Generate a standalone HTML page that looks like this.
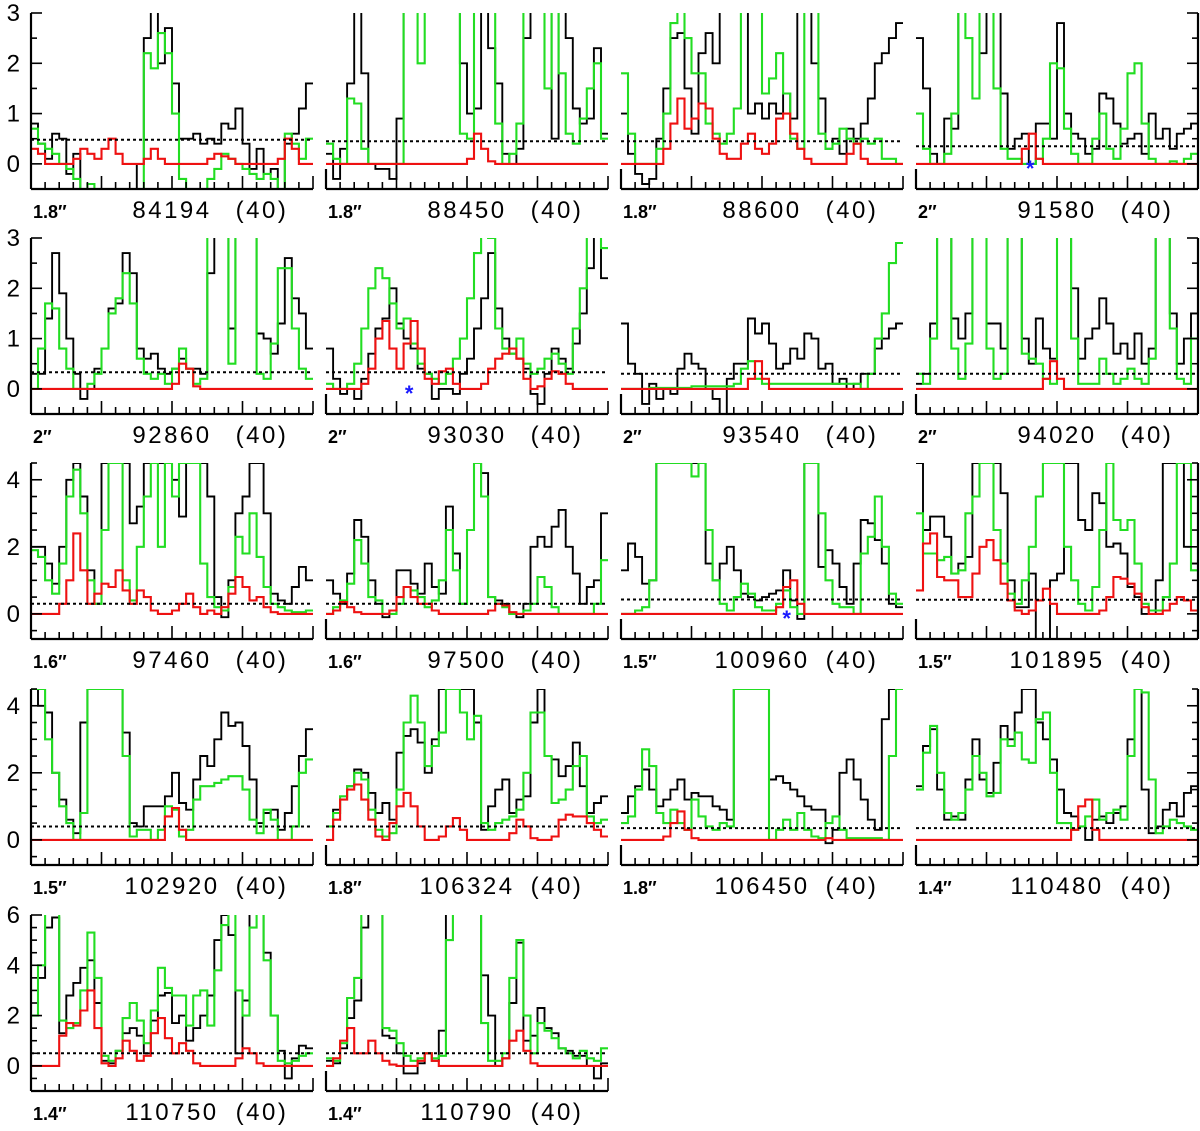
<!DOCTYPE html>
<html><head><meta charset="utf-8"><style>
html,body{margin:0;padding:0;background:#fff;}
svg{display:block;}
text{font-family:"Liberation Sans",sans-serif;}
</style></head><body>
<svg id="chart" width="1200" height="1131" viewBox="0 0 1200 1131" xmlns="http://www.w3.org/2000/svg"></svg>
<script>
// ---- data (40 channels per panel) ----
const freqLabels = ["84194","88450","88600","91580","92860","93030","93540","94020","97460","97500","100960","101895","102920","106324","106450","110480","110750","110790"];
const beamLabels = ["1.8″","1.8″","1.8″","2″","2″","2″","2″","2″","1.6″","1.6″","1.5″","1.5″","1.5″","1.8″","1.8″","1.4″","1.4″","1.4″"];
const noiseLevels = [0.48,0.45,0.45,0.35,0.33,0.33,0.3,0.3,0.3,0.3,0.43,0.42,0.4,0.4,0.35,0.35,0.5,0.5];
const starPanels = [3,5,10];
const starChannels = [16.2,11.8,23.5];

const black0=[0.8,0.4,0.1,0.6,0.5,-0.2,0.2,-0.5,-0.6,-0.6,-0.6,-0.7,-0.5,-0.8,-0.8,0.0,2.5,3.2,2.0,2.7,1.6,0.5,0.5,0.6,0.4,0.5,0.4,0.8,0.7,1.1,0.4,-0.1,0.3,-0.2,-0.1,-0.5,0.4,0.6,1.1,1.6];
const green0=[0.7,0.4,0.3,0.2,0.0,-0.1,-0.3,-0.5,-0.4,-0.5,-0.6,-0.9,-1,-1,-1,-1,2.2,1.9,2.6,2.2,1.0,-0.3,-0.5,-0.6,-0.5,-0.3,-0.1,0.2,0.1,0.0,-0.1,-0.2,-0.3,-0.2,-0.3,-1,0.6,0.4,0.1,0.5];
const red0=[0.3,0.2,0,0,0,0,0.1,0.3,0.2,0.1,0.3,0.5,0.2,0,0,0,0.1,0.3,0.1,0,0,0,0,0,0,0.1,0.2,0.15,0.1,0,0,0,0,0,0,0.1,0.5,0.3,0,0];

const black1=[0.2,-0.3,0.3,1.6,3.5,1.8,0.0,-0.1,-0.1,-0.3,0.9,3.5,3.5,3.5,3.5,3.5,3.5,3.5,3.5,2.0,1.0,1.1,3.5,2.3,1.6,0.2,0.0,0.3,2.5,3.5,3.5,3.5,0.5,3.5,2.5,1.1,0.8,0.9,2.3,0.6];
const green1=[0.4,0.1,0.0,1.3,1.2,0.3,0.0,0.0,0.0,0.0,0.0,3.5,3.5,2.0,3.5,3.5,3.5,3.5,3.5,0.6,0.5,3.5,3.5,3.5,0.8,0.0,0.2,0.8,3.5,3.5,3.5,1.5,3.5,1.8,0.6,0.4,0.9,1.5,2.0,0.5];
const red1=[0,0,0,0,0,0,0,0,0,0,0,0,0,0,0,0,0,0,0,0,0.1,0.6,0.3,0.05,0,0,0,0,0,0,0,0,0,0,0,0,0,0,0,0];

const black2=[1.0,0.2,-0.2,-0.4,-0.3,0.5,1.5,2.5,2.6,1.5,0.6,2.2,2.6,2.0,3.5,3.5,3.5,3.5,1.0,1.2,0.9,1.2,1.0,1.4,0.9,3.5,3.5,2.0,1.3,0.3,0.5,0.2,0.7,0.5,0.8,1.3,2.0,2.2,2.5,2.8];
const green2=[1.8,0.6,0.0,0.0,0.0,0.3,1.0,2.8,3.5,2.5,1.8,1.8,0.8,0.6,0.4,0.6,1.1,3.5,3.5,3.5,1.4,1.7,2.2,1.4,0.5,0.3,3.5,3.5,0.6,0.3,0.4,0.7,0.5,0.4,0.5,0.4,0.5,0.1,0.1,0.0];
const red2=[0,0,0,0,0,0,0.3,0.8,1.3,0.7,0.9,1.2,1.1,0.5,0.2,0.1,0.1,0.4,0.6,0.3,0.2,0.4,0.9,1.0,0.6,0.3,0.1,0,0,0,0,0,0.2,0.4,0.1,0,0,0,0,0];

const black3=[2.5,1.5,0.2,0.0,0.9,0.7,3.5,3.5,3.5,2.2,3.5,3.5,1.4,0.3,0.5,0.6,0.0,0.8,0.8,0.5,2.8,1.0,0.6,0.5,0.2,0.3,1.4,1.3,0.8,0.4,0.5,0.6,0.2,1.0,0.5,0.7,0.3,0.6,0.7,0.8];
const green3=[1.0,0.3,0.0,0.0,0.2,1.0,3.5,2.5,1.3,3.5,3.5,1.5,0.3,0.1,0.1,0.0,0.0,0.1,0.5,2.0,1.9,0.7,0.2,0.0,0.0,0.5,1.0,0.3,0.1,0.7,1.8,2.0,0.8,0.1,0.0,0.0,0.05,0.0,0.1,0.2];
const red3=[0,0,0,0,0,0,0,0,0,0,0,0,0,0,0,0.3,0.6,0.1,0,0,0,0,0,0,0,0,0,0,0,0,0,0,0,0,0,0,0,0,0,0];

const black4=[0.3,0.3,1.4,2.7,1.9,1.0,0.3,-0.2,0.0,0.4,0.8,1.6,1.7,2.7,2.3,0.8,0.6,0.7,0.4,0.3,0.4,0.6,0.4,0.4,0.3,2.3,3.5,3.5,1.2,3.5,3.5,3.5,1.1,1.0,0.7,1.3,2.6,1.8,1.5,0.8];
const green4=[0.0,0.8,1.7,1.6,0.8,0.4,0.0,0.0,0.1,0.3,0.8,1.5,1.8,2.3,1.7,0.6,0.3,0.2,0.3,0.1,0.4,0.8,0.4,0.1,0.2,3.5,3.5,3.5,0.5,3.5,3.5,3.5,0.3,0.2,0.9,2.4,2.4,1.2,0.4,0.2];
const red4=[0,0,0,0,0,0,0,0,0,0,0,0,0,0,0,0,0,0,0,0,0.1,0.5,0.4,0.05,0,0,0,0,0,0,0,0,0,0,0,0,0,0,0,0];

const black5=[0.8,0.2,-0.1,0.0,-0.2,0.2,0.7,1.2,1.4,2.0,1.3,1.0,0.8,0.4,0.3,-0.2,0.0,0.0,-0.1,0.3,0.6,1.2,1.8,2.7,1.6,1.0,0.7,0.6,0.4,-0.1,-0.3,0.3,0.8,0.6,0.4,0.9,1.5,2.4,3.5,2.2];
const green5=[0.1,0.0,0.0,0.1,0.5,1.2,2.0,2.4,2.2,1.7,1.2,1.4,0.9,0.5,0.3,0.2,0.1,0.3,0.6,1.0,1.8,2.7,3.5,3.0,1.2,0.8,0.7,1.0,0.5,0.3,0.4,0.6,0.7,0.5,0.3,1.2,2.0,3.5,3.5,2.8];
const red5=[0,0,0,0,0,0.1,0.4,1.0,1.35,0.8,0.4,0.9,1.35,0.8,0.2,0.1,0.35,0.4,0.1,0,0,0,0.1,0.4,0.6,0.7,0.8,0.6,0.2,0,0.05,0.2,0.35,0.3,0.1,0,0,0,0,0];

const black6=[1.3,0.5,0.3,-0.3,0.1,-0.2,0.0,-0.1,0.4,0.7,0.5,0.4,0.0,-0.2,-0.5,0.2,0.5,0.5,1.4,1.1,1.3,0.9,0.4,0.5,0.8,0.6,1.1,1.0,0.4,0.5,0.1,0.2,0.0,0.1,0.3,0.3,0.8,1.0,1.2,1.3];
const green6=[0,0,0,0,0.02,0.02,0.02,0.02,0.02,0.02,0.05,0.05,0.05,0.05,0.05,0.05,0.1,0.4,0.55,0.2,0.1,0.1,0.1,0.1,0.1,0.1,0.1,0.1,0.1,0.1,0.1,0.1,0.1,0.1,0.0,0.3,1.0,1.5,2.5,2.9];
const red6=[0,0,0,0,0,0,0,0,0,0,0,0,0,0,0,0,0,0,0.2,0.55,0.2,0,0,0,0,0,0,0,0,0,0,0,0,0,0,0,0,0,0,0];

const black7=[0.1,0.3,1.3,3.5,3.5,1.4,1.0,1.5,3.5,3.5,1.3,1.3,0.8,3.5,3.5,1.0,0.5,1.4,0.8,0.6,3.5,3.5,2.0,0.6,1.0,1.2,1.8,1.3,0.7,0.9,0.6,1.1,0.5,0.8,3.5,3.5,1.5,0.5,1.0,1.5];
const green7=[0.3,0.1,1.0,3.5,3.5,0.8,0.2,0.9,3.5,3.5,0.8,0.2,0.3,3.5,3.5,0.7,0.6,0.5,0.2,0.1,3.5,3.5,1.0,0.1,0.1,0.1,0.6,0.3,0.1,0.2,0.4,0.2,0.1,0.6,3.5,3.5,1.2,0.2,0.1,1.0];
const red7=[0,0,0,0,0,0,0,0,0,0,0,0,0,0,0,0,0,0,0.2,0.55,0.2,0,0,0,0,0,0,0,0,0,0,0,0,0,0,0,0,0,0,0];

const black8=[2.0,2.0,1.5,0.9,2.0,4.0,4.5,3.5,1.3,0.3,4.5,4.5,4.5,4.5,2.7,3.2,4.5,4.5,4.5,4.5,4.0,2.9,4.5,4.5,4.5,3.5,0.5,-0.1,1.0,3.0,3.5,4.5,4.5,3.0,0.6,0.4,0.3,0.8,1.4,1.0];
const green8=[1.9,1.7,1.0,0.6,1.5,3.5,4.3,3.0,1.0,0.3,2.5,4.5,4.5,1.0,0.4,2.0,3.5,4.5,2.0,4.5,3.5,4.5,4.5,4.5,1.5,0.5,0.2,0.1,0.8,2.3,1.8,3.0,1.7,0.8,0.3,0.2,0.1,0.05,0.05,0.1];
const red8=[0,0,0,0,0.3,1.0,2.4,1.3,0.3,0.6,0.9,0.8,1.3,0.7,0.3,0.7,0.5,0.1,0,0,0.1,0.3,0.6,0.2,0,0.1,0,0.2,0.6,1.1,0.8,0.4,0.5,0.2,0.05,0,0,0,0,0];

const black9=[1.0,0.6,0.3,1.2,2.8,2.3,1.0,0.3,-0.1,0.1,1.3,1.3,0.9,0.6,1.5,0.8,0.6,3.2,1.8,0.3,2.5,4.5,4.2,0.5,0.4,0.3,0.0,-0.1,0.3,2.0,2.3,2.0,2.6,3.1,2.0,1.2,0.3,0.8,1.0,3.0];
const green9=[0.0,0.2,0.4,0.9,2.2,1.5,0.5,0.4,0.0,0.0,0.3,0.8,0.7,0.5,0.2,0.4,1.0,2.5,1.3,0.3,2.5,4.5,3.5,0.5,0.3,0.2,0.0,0.0,0.1,0.3,1.1,0.8,0.2,0.0,0.0,0.0,0.0,0.0,0.3,1.6];
const red9=[0,0.1,0.35,0.2,0.05,0,0,0,0,0.1,0.5,0.8,0.5,0.3,0.3,0.1,0,0,0,0,0,0,0,0.1,0.3,0.25,0.05,0,0,0,0,0,0,0,0,0,0,0,0,0];

const black10=[1.3,2.1,1.7,0.9,1.0,4.5,4.5,4.5,4.5,4.5,4.5,4.5,1.5,1.0,1.5,2.0,1.3,0.6,0.5,0.4,0.5,0.6,0.7,1.3,0.4,-0.15,4.5,4.5,1.4,1.9,1.5,0.8,0.3,1.5,2.8,2.7,2.2,1.5,0.3,0.2];
const green10=[0.0,0.0,0.1,0.2,1.0,4.5,4.5,4.5,4.5,4.5,4.1,4.5,2.5,1.0,0.3,0.1,0.5,0.9,0.6,0.2,0.1,0.1,0.3,0.7,0.2,0.0,4.5,4.5,3.0,1.0,0.3,0.2,0.2,0.0,1.8,2.3,3.5,2.0,0.6,0.3];
const red10=[0,0,0,0,0,0,0,0,0,0,0,0,0,0,0,0,0,0,0,0,0,0,0.2,0.8,1.0,0.3,0,0,0,0,0,0,0,0,0,0,0,0,0,0];

const black11=[4.5,2.5,2.9,2.9,2.3,1.2,1.5,1.7,4.5,4.5,4.5,4.5,3.6,1.0,0.2,0.2,1.2,-0.8,-0.8,1.0,1.2,4.5,4.5,2.8,2.5,3.6,3.3,2.0,2.1,1.8,0.8,0.5,0.0,0.0,1.0,4.5,4.5,4.5,2.0,1.5];
const green11=[3.0,1.8,1.8,1.6,1.7,1.2,1.3,3.0,3.5,4.5,4.5,2.5,1.5,0.6,0.3,1.0,2.0,3.5,4.5,4.5,4.5,2.0,1.0,0.3,0.1,0.8,2.5,4.5,2.8,2.5,2.8,1.5,0.3,0.1,0.1,0.5,1.5,4.5,4.5,1.3];
const red11=[0.7,2.1,2.4,1.1,1.0,1.0,0.5,0.5,1.2,2.0,2.2,1.6,0.9,0.4,0.1,0,0.1,0.4,0.75,0.3,0,0,0,0,0,0,0.1,0.5,1.1,1.05,0.9,0.6,0.2,0,0,0.1,0.3,0.5,0.4,0.1];

const black12=[4.5,4.0,3.8,2.0,1.2,0.6,0.2,3.5,4.5,4.5,4.5,4.5,4.5,3.2,0.5,0.4,1.0,1.0,1.0,1.3,2.0,1.1,0.9,1.8,2.5,2.2,3.0,3.8,3.4,3.5,2.8,1.8,0.5,0.8,0.9,0.3,0.8,1.6,2.5,3.3];
const green12=[4.5,4.5,3.0,2.0,1.0,0.5,0.0,0.8,4.5,4.5,4.5,4.5,4.5,2.5,0.1,0.3,0.3,0.0,0.3,1.0,0.9,0.1,0.3,1.2,1.6,1.6,1.7,1.8,1.9,1.9,1.5,0.6,0.2,0.9,0.6,0.0,0.0,0.4,2.0,2.4];
const red12=[0,0,0,0,0,0,0,0,0,0,0,0,0,0,0,0,0,0,0,0.7,0.95,0.3,0,0,0,0,0,0,0,0,0,0,0,0,0,0,0,0,0,0];

const black13=[0.4,0.9,1.2,1.6,2.1,2.0,1.4,0.8,1.1,0.6,2.6,3.1,3.3,2.9,2.0,3.0,4.5,4.5,4.5,4.5,4.5,3.5,0.3,1.0,1.5,1.8,0.8,1.2,1.3,3.5,4.5,2.5,2.4,1.9,2.2,2.9,1.6,0.8,1.1,1.3];
const green13=[0.4,0.8,1.3,1.6,2.0,1.8,0.9,0.3,0.1,0.2,1.5,3.5,4.3,3.5,2.2,2.8,3.2,4.5,4.5,3.8,3.0,3.7,0.5,0.3,0.5,0.6,0.7,0.9,2.0,3.8,3.8,2.5,1.1,1.2,1.5,2.2,2.5,0.7,0.5,0.6];
const red13=[0,0.6,1.2,1.5,1.65,1.2,0.6,0.1,0,0.5,1.0,1.4,1.0,0.4,0,0,0.1,0.4,0.65,0.3,0,0,0,0,0,0,0.2,0.6,0.4,0.05,0,0,0.1,0.6,0.75,0.7,0.7,0.5,0.3,0.1];

const black14=[0.8,1.3,1.6,2.1,1.5,1.0,1.2,1.5,1.8,1.2,1.4,1.3,1.3,1.0,0.9,0.6,4.5,4.5,4.5,4.5,4.5,1.8,1.9,1.7,1.5,1.3,1.0,0.9,0.9,-0.1,0.3,2.0,2.4,1.8,1.2,0.6,0.3,3.6,4.5,4.5];
const green14=[0.5,0.7,1.5,2.7,2.2,0.8,0.5,0.9,0.5,0.3,1.2,0.7,0.4,0.3,0.5,0.4,4.5,4.5,4.5,4.5,4.5,0.0,0.3,0.6,0.3,0.8,0.3,0.1,0.05,0.5,0.7,0.3,0.05,0.05,0.05,0.05,0.05,0.0,2.5,4.5];
const red14=[0,0,0,0,0,0,0.1,0.5,0.85,0.3,0.05,0,0,0,0,0,0,0,0,0,0,0,0,0,0,0,0,0,0,0.05,0,0,0,0,0,0,0,0,0,0];

const black15=[1.6,2.8,3.3,1.5,0.6,0.7,0.6,1.8,3.0,1.8,1.4,2.3,3.4,3.0,3.8,4.5,4.5,3.5,3.0,2.4,1.5,0.8,0.7,0.4,0.0,0.6,0.7,0.5,0.8,1.0,3.0,4.5,1.5,0.2,0.4,0.9,1.1,0.7,1.4,1.6];
const green15=[1.5,2.6,3.4,2.0,0.8,0.6,0.8,1.5,2.5,2.0,1.3,1.4,3.0,2.8,3.2,2.4,2.3,3.6,3.8,2.0,0.5,0.5,0.3,0.4,0.7,1.2,0.6,0.8,0.9,0.6,2.5,4.5,4.4,1.8,0.2,0.4,0.6,0.5,0.4,0.3];
const red15=[0,0,0,0,0,0,0,0,0,0,0,0,0,0,0,0,0,0,0,0,0,0,0.3,1.0,1.2,0.3,0,0,0,0,0,0,0,0,0,0,0,0,0,0];

const black16=[2.0,3.5,5.5,5.9,1.3,2.8,3.3,3.9,4.2,2.5,0.2,0.1,0.6,1.3,1.5,1.2,0.5,1.8,2.8,2.9,1.7,2.0,1.0,1.5,2.0,2.8,5.0,6.0,5.2,0.5,2.6,6.5,6.5,4.5,2.0,0.6,-0.5,0.3,0.8,0.7];
const green16=[2.0,4.0,6.5,6.5,1.8,1.5,1.7,3.0,5.3,3.5,0.4,0.2,0.6,1.9,2.5,1.8,0.9,2.2,3.9,3.1,2.8,2.8,1.6,2.8,3.0,1.6,3.8,5.6,6.5,3.0,2.0,5.5,6.5,4.2,2.0,0.2,0.1,0.2,0.4,0.5];
const red16=[0,0,0,0,1.2,1.7,1.6,2.2,3.0,1.5,0.1,0,0.3,1.0,0.6,0.2,0.4,1.3,1.9,1.1,0.5,0.9,0.6,0.1,0,0,0,0,0,0.3,0.7,0.5,0.1,0,0,0,0,0,0,0];

const black17=[0.2,0.1,0.7,1.9,2.6,5.5,6.5,6.5,1.2,1.1,0.5,-0.3,-0.3,0.1,0.5,0.2,1.4,6.5,6.5,6.5,6.5,6.5,3.6,2.0,0.0,0.3,2.5,4.9,1.0,1.2,2.3,1.5,1.3,0.7,0.6,0.4,0.4,0.0,-0.5,0.1];
const green17=[0.3,0.2,0.9,2.7,3.5,6.5,6.5,6.5,1.5,1.4,0.9,0.4,0.2,0.3,0.5,0.3,0.4,5.0,6.5,6.5,6.5,6.5,1.7,0.2,0.2,0.5,3.5,5.0,2.0,0.5,1.7,1.4,1.1,0.7,0.5,0.3,0.6,0.3,0.2,0.7];
const red17=[0,0.3,1.0,1.5,0.5,0.5,1.0,0.5,0.2,0.05,0,0,0,0.2,0.5,0.2,0,0,0,0,0,0,0,0,0,0.3,1.0,1.4,0.6,0.1,0,0,0,0,0,0,0,0,0,0];

const blackSeries=[black0,black1,black2,black3,black4,black5,black6,black7,black8,black9,black10,black11,black12,black13,black14,black15,black16,black17];
const greenSeries=[green0,green1,green2,green3,green4,green5,green6,green7,green8,green9,green10,green11,green12,green13,green14,green15,green16,green17];
const redSeries=[red0,red1,red2,red3,red4,red5,red6,red7,red8,red9,red10,red11,red12,red13,red14,red15,red16,red17];

const rowYMin=[-0.5,-0.5,-0.75,-0.75,-1];
const rowYMax=[3,3,4.5,4.5,6];
const rowTickLabels=[[0,1,2,3],[0,1,2,3],[0,2,4],[0,2,4],[0,2,4,6]];

// ---- layout ----
const NS="http://www.w3.org/2000/svg";
const svg=document.getElementById('chart');
const colLeft=[31,326,621,916], panelW=282;
const rowTop=[13,238,463,689,915], panelH=176;

function mk(tag,attrs,parent){const e=document.createElementNS(NS,tag);for(const k in attrs)e.setAttribute(k,attrs[k]);(parent||svg).appendChild(e);return e;}

const defs=mk('defs',{});
for(let p=0;p<freqLabels.length;p++){
  const r=Math.floor(p/4), c=p%4;
  const cp=mk('clipPath',{id:'clip'+p},defs);
  mk('rect',{x:colLeft[c],y:rowTop[r],width:panelW,height:panelH},cp);
}

for(let p=0;p<freqLabels.length;p++){
  const r=Math.floor(p/4), c=p%4;
  const x0=colLeft[c], top=rowTop[r], bot=top+panelH;
  const ymin=rowYMin[r], ymax=rowYMax[r];
  const yScale=v=>bot-(v-ymin)/(ymax-ymin)*panelH;
  const n=blackSeries[p].length, w=panelW/n;
  const xScale=i=>x0+i*w;

  const g=mk('g',{});
  
  

  const plot=mk('g',{'clip-path':'url(#clip'+p+')'},g);
  function step(arr,color,width,name){
    let d='M'+xScale(0).toFixed(1)+','+yScale(arr[0]).toFixed(1);
    for(let i=0;i<arr.length;i++){
      if(i>0)d+='V'+yScale(arr[i]).toFixed(1);
      d+='H'+xScale(i+1).toFixed(1);
    }
    const e=mk('path',{d:d,fill:'none',stroke:color,'stroke-width':width,'stroke-linejoin':'miter'},plot);
    
    
  }
  step(blackSeries[p],'#000',1.9,'observed-spectrum');
  step(greenSeries[p],'#22dd22',2.1,'full-model-spectrum');
  step(redSeries[p],'#ee1111',2.1,'species-model-spectrum');

  const dl=mk('line',{x1:x0,x2:x0+panelW,y1:yScale(noiseLevels[p]),y2:yScale(noiseLevels[p]),stroke:'#000','stroke-width':2,'stroke-dasharray':'3,3'},g);
  
  

  // axes
  const ax=mk('g',{stroke:'#000',fill:'none'},g);
  
  
  mk('line',{x1:x0,x2:x0+panelW,y1:bot,y2:bot,'stroke-width':2.2},ax);
  for(let k=0;k<=20;k++){
    const tx=x0+k*panelW/20, len=(k%5===0)?13:7;
    mk('line',{x1:tx,x2:tx,y1:bot,y2:bot-len,'stroke-width':1.6},ax);
  }
  if(c===0){
    mk('line',{x1:x0,x2:x0,y1:top,y2:bot,'stroke-width':2.2},ax);
  } else {
    mk('line',{x1:x0,x2:x0,y1:bot-20,y2:bot,'stroke-width':2.2},ax);
  }
  if(c===3){
    mk('line',{x1:x0+panelW,x2:x0+panelW,y1:top,y2:bot,'stroke-width':2.2},ax);
  }
  const labs=rowTickLabels[r];
  for(let v=Math.ceil(ymin*2)/2; v<=ymax+1e-9; v+=0.5){
    const ty=yScale(v), major=labs.indexOf(v)>=0, len=major?11:6;
    if(c===0) mk('line',{x1:x0,x2:x0+len,y1:ty,y2:ty,'stroke-width':1.6},ax);
    if(c===3) mk('line',{x1:x0+panelW,x2:x0+panelW-len,y1:ty,y2:ty,'stroke-width':1.6},ax);
  }
  if(c===0){
    for(const v of labs){
      const t=mk('text',{x:20,y:yScale(v)+8,'text-anchor':'end','font-size':24,fill:'#000'},g);
      t.textContent=String(v);
      
      
    }
  }

  // stars
  const si=starPanels.indexOf(p);
  if(si>=0){
    const st=mk('text',{x:xScale(starChannels[si]),y:yScale(0)+12,'text-anchor':'middle','font-size':22,'font-weight':'bold',fill:'#1a1aff'},g);
    st.textContent='*';
    
    
  }

  // labels
  const b=mk('text',{x:x0+2,y:bot+29,'font-size':18,'font-weight':'bold',fill:'#000'},g);
  b.textContent=beamLabels[p];
  
  
  const f=mk('text',{x:x0+141,y:bot+29,'text-anchor':'middle','font-size':24,'letter-spacing':'2.5',fill:'#000'},g);
  f.textContent=freqLabels[p];
  
  
  const u=mk('text',{x:x0+231,y:bot+29,'text-anchor':'middle','font-size':24,'letter-spacing':'2.5',fill:'#000'},g);
  u.textContent='(40)';
  
  
}
</script>
</body></html>
